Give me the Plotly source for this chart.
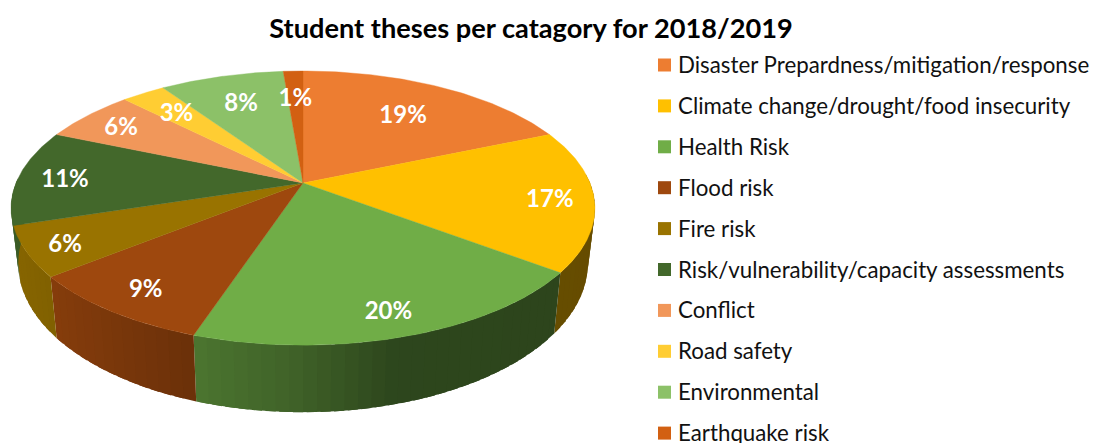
import numpy as np
import plotly.graph_objects as go

categories = ["Disaster Prepardness/mitigation/response", "Climate change/drought/food insecurity",
              "Health Risk", "Flood risk", "Fire risk", "Risk/vulnerability/capacity assessments",
              "Conflict", "Road safety", "Environmental", "Earthquake risk"]
values = [18.6, 16.7, 19.8, 9.1, 5.9, 11.3, 6.2, 2.9, 8.2, 1.3]
colors = ["#ED7D31", "#FFC000", "#70AD47", "#9E480E", "#997300", "#43682B",
          "#F1975A", "#FFCD33", "#8CC168", "#D26012"]
label_radius = [0.70, 0.85, 0.853, 0.84, 0.87, 0.836, 0.832, 0.77, 0.73, 0.74]

W, H = 1094, 443
CX, CY, RX, RY, K = 303.0, 183.0, 287.0, 132.5, 0.183
SX, SY, D0 = 0.976, 1.087, 53.0
FONT = "Lato"
LABEL_DY = 3.5
KEY_DY = 2.5


def top(theta, r=1.0):
    u, v = r * np.sin(theta), r * np.cos(theta)
    d = 1 + K * v
    return CX + RX * u / d, CY - RY * v / d


def bottom(theta):
    x, y = top(theta)
    return CX + (x - CX) * SX, CY + D0 + (y - CY) * SY


def shade(x, hexcol):
    m = np.interp(x, [14, 60, 190, 300, 400, 600], [0.88, 0.84, 0.69, 0.57, 0.41, 0.40])
    rgb = [int(hexcol[i:i + 2], 16) for i in (1, 3, 5)]
    return "rgb(%d,%d,%d)" % tuple(int(c * m) for c in rgb)


fig = go.Figure()
edges = np.concatenate([[0], np.cumsum(values)]) / np.sum(values) * 2 * np.pi

# side walls, as overlapping thin bands shaded along the rim
for i, col in enumerate(colors):
    a0, a1 = max(edges[i], 1.5), min(edges[i + 1], 4.75)
    if a1 <= a0:
        continue
    n = max(2, int((a1 - a0) / 0.04))
    grid = np.linspace(a0, a1, n + 1)
    for t0, t1 in zip(grid[:-1], grid[1:]):
        ts = np.linspace(t0, min(t1 + 0.03, a1), 4)
        xt, yt = top(ts)
        xb, yb = bottom(ts)
        c = shade(float(top(t0)[0]), col)
        fig.add_trace(go.Scatter(
            x=np.r_[xt, xb[::-1], xt[0]], y=np.r_[yt, yb[::-1], yt[0]],
            mode="lines", fill="toself", fillcolor=c, line=dict(color=c, width=0),
            showlegend=False, hoverinfo="skip"))

# top face
for i, col in enumerate(colors):
    ts = np.linspace(edges[i], edges[i + 1], 80)
    x, y = top(ts)
    fig.add_trace(go.Scatter(
        x=np.r_[CX, x, CX], y=np.r_[CY, y, CY], mode="lines", fill="toself",
        fillcolor=col, line=dict(color=col, width=0.4), showlegend=False, hoverinfo="skip"))

# percentage labels
mids = (edges[:-1] + edges[1:]) / 2
lx, ly = top(mids, np.array(label_radius))
fig.add_trace(go.Scatter(
    x=lx, y=ly + LABEL_DY, mode="text", text=["%d%%" % round(v) for v in values],
    textposition="middle center", textfont=dict(family=FONT, size=24, color="white", weight="bold"),
    showlegend=False, hoverinfo="skip"))

# key, allowed to run off the bottom of the picture as in the reference
key_y = 65 + 40.9 * np.arange(len(categories))
fig.add_trace(go.Scatter(
    x=[664.5] * len(categories), y=key_y, mode="markers",
    marker=dict(symbol="square", size=13, color=colors, line=dict(width=0)),
    showlegend=False, hoverinfo="skip"))
fig.add_trace(go.Scatter(
    x=[678] * len(categories), y=key_y + KEY_DY, mode="text", text=categories,
    textposition="middle right", textfont=dict(family=FONT, size=22.3, color="#111111"),
    showlegend=False, hoverinfo="skip"))

fig.update_layout(
    width=W, height=H, margin=dict(l=0, r=0, t=0, b=0),
    paper_bgcolor="white", plot_bgcolor="white", showlegend=False,
    xaxis=dict(range=[0, W], visible=False, fixedrange=True),
    yaxis=dict(range=[H, 0], visible=False, fixedrange=True),
    title=dict(text="<b>Student theses per catagory for 2018/2019</b>", x=531 / W, xanchor="center",
               y=1 - 28 / H, yanchor="middle", font=dict(family=FONT, size=27.2, color="black")),
)
fig.write_html("out.html", config={"displayModeBar": False},
               post_script="document.body.style.margin='0';")
